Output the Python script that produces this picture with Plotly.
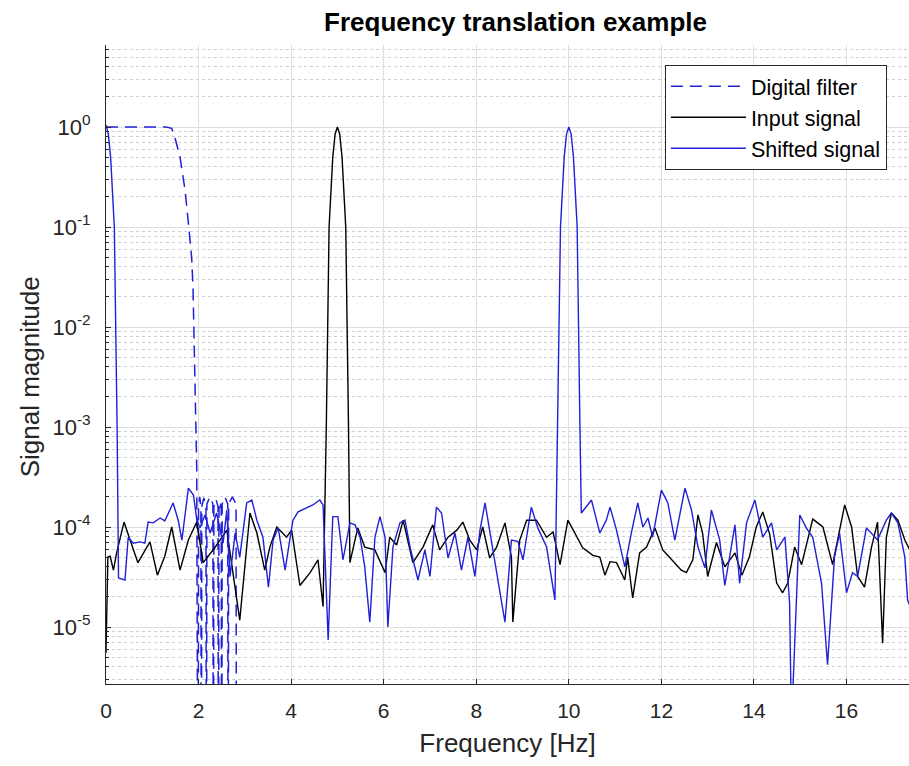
import plotly.graph_objects as go

# ---------------- data ----------------
filter_freq = [0.0, 1.30, 1.42, 1.50, 1.60, 1.71, 1.78, 1.85, 1.88, 1.92, 1.96, 1.99,
               2.00, 2.025, 2.05, 2.06,
               2.07, 2.115, 2.16, 2.17,
               2.18, 2.245, 2.31, 2.32,
               2.33, 2.375, 2.42, 2.43,
               2.44, 2.465, 2.49, 2.50,
               2.51, 2.57, 2.63, 2.64,
               2.65, 2.73, 2.81, 2.82]
filter_mag = [1.0, 1.0, 0.97, 0.75, 0.5, 0.23, 0.11, 0.05, 0.025, 4e-3, 4e-4, 1e-8,
              1.6e-4, 2.0e-4, 1.6e-4, 1e-8,
              1.6e-4, 1.95e-4, 1.6e-4, 1e-8,
              1.7e-4, 2.0e-4, 1.7e-4, 1e-8,
              1.6e-4, 1.9e-4, 1.6e-4, 1e-8,
              1.5e-4, 1.8e-4, 1.5e-4, 1e-8,
              1.7e-4, 2.0e-4, 1.7e-4, 1e-8,
              1.7e-4, 2.0e-4, 1.7e-4, 1e-8]

input_freq = [0.0, 0.04, 0.09, 0.16, 0.23, 0.39, 0.52, 0.69, 0.95, 1.11, 1.27, 1.42,
              1.60, 1.78, 1.96, 2.10, 2.35, 2.61, 2.89, 3.11, 3.26, 3.43, 3.54, 3.69,
              3.90, 4.01, 4.19, 4.41, 4.58, 4.69, 4.76, 4.82, 4.90, 4.95, 5.00, 5.05,
              5.10, 5.18, 5.24, 5.27, 5.44, 5.59, 5.81, 6.03, 6.13, 6.28, 6.42, 6.63,
              6.85, 7.06, 7.21, 7.39, 7.58, 7.71, 7.86, 8.01, 8.14, 8.29, 8.44, 8.62,
              8.76, 8.79, 8.94, 9.09, 9.30, 9.52, 9.66, 9.81, 9.98, 10.17, 10.30, 10.52,
              10.67, 10.78, 10.89, 11.03, 11.21, 11.27, 11.38, 11.53, 11.68, 11.86,
              12.03, 12.14, 12.43, 12.54, 12.68, 12.79, 12.89, 13.00, 13.19, 13.37,
              13.59, 13.74, 13.90, 14.05, 14.19, 14.34, 14.49, 14.62, 14.73, 14.88,
              15.03, 15.27, 15.49, 15.70, 15.96, 16.11, 16.24, 16.39, 16.54, 16.67,
              16.78, 16.86, 16.97, 17.11, 17.26, 17.40]
input_mag = [5.5e-6, 5.0e-5, 5.1e-5, 3.7e-5, 5.5e-5, 1.12e-4, 7.4e-5, 4.4e-5, 7.1e-5,
             3.3e-5, 5.1e-5, 1.0e-4, 3.7e-5, 7.4e-5, 1.12e-4, 4.4e-5, 6.2e-5, 9.3e-5,
             1.17e-5, 1.38e-4, 8.7e-5, 3.7e-5, 6.3e-5, 1.0e-4, 7.9e-5, 9.3e-5, 2.6e-5,
             3.5e-5, 4.7e-5, 1.6e-5, 1.0e-3, 0.1, 0.5, 0.85, 1.0, 0.85, 0.5, 0.1, 1.0e-3,
             4.4e-5, 9.8e-5, 6.3e-5, 5.9e-5, 3.5e-5, 7.9e-5, 6.6e-5, 1.17e-4, 4.4e-5,
             6.3e-5, 1.05e-4, 5.9e-5, 7.9e-5, 9.3e-5, 1.12e-4, 7.4e-5, 5.9e-5, 1.0e-4,
             4.9e-5, 6.3e-5, 1.1e-4, 5.0e-5, 1.12e-5, 7.4e-5, 1.17e-4, 1.17e-4, 7.9e-5,
             8.9e-5, 4.2e-5, 1.17e-4, 7.9e-5, 6.2e-5, 5.2e-5, 5.0e-5, 3.3e-5, 4.5e-5,
             4.4e-5, 2.95e-5, 5.0e-5, 1.95e-5, 5.5e-5, 6.3e-5, 9.8e-5, 5.9e-5, 5.2e-5,
             3.7e-5, 3.5e-5, 4.7e-5, 1.32e-4, 8.7e-5, 3.2e-5, 7.0e-5, 4.0e-5, 5.5e-5,
             3.3e-5, 5.0e-5, 1.0e-4, 1.41e-4, 8.5e-5, 2.75e-5, 2.2e-5, 2.75e-5, 6.3e-5,
             4.2e-5, 1.2e-4, 1.0e-4, 4.2e-5, 1.66e-4, 1.0e-4, 3.2e-5, 2.5e-5, 6.3e-5,
             1.12e-4, 6.9e-6, 7.9e-5, 1.38e-4, 1.17e-4, 7.4e-5, 5.5e-5]

shifted_freq = [0.0, 0.05, 0.10, 0.18, 0.24, 0.27, 0.41, 0.48, 0.59, 0.73, 0.84, 0.91,
                1.02, 1.17, 1.27, 1.45, 1.56, 1.64, 1.78, 1.89, 1.96, 2.03, 2.14, 2.25,
                2.39, 2.53, 2.61, 2.68, 2.79, 2.89, 3.04, 3.15, 3.26, 3.39, 3.51, 3.61,
                3.72, 3.87, 3.97, 4.04, 4.15, 4.34, 4.47, 4.62, 4.69, 4.80, 4.90, 5.01,
                5.12, 5.27, 5.38, 5.49, 5.59, 5.70, 5.81, 5.92, 6.03, 6.09, 6.20, 6.35,
                6.46, 6.57, 6.74, 6.89, 7.00, 7.14, 7.25, 7.39, 7.54, 7.68, 7.82, 7.97,
                8.08, 8.19, 8.33, 8.47, 8.62, 8.76, 8.90, 9.01, 9.19, 9.33, 9.52, 9.70,
                9.76, 9.82, 9.90, 9.95, 10.00, 10.05, 10.10, 10.18, 10.24, 10.27, 10.49,
                10.67, 10.81, 10.89, 11.03, 11.21, 11.35, 11.49, 11.60, 11.71, 11.81,
                12.00, 12.14, 12.29, 12.51, 12.65, 12.79, 12.94, 13.08, 13.26, 13.37,
                13.59, 13.69, 13.84, 14.02, 14.19, 14.38, 14.49, 14.67, 14.77, 14.81,
                14.99, 15.13, 15.27, 15.46, 15.59, 15.74, 15.85, 16.00, 16.13, 16.24,
                16.43, 16.67, 16.86, 16.97, 17.11, 17.26, 17.32, 17.40]
shifted_mag = [1.05, 0.85, 0.5, 0.1, 1.0e-3, 3.1e-5, 2.95e-5, 7.9e-5, 6.9e-5, 7.1e-5,
               6.9e-5, 1.12e-4, 1.1e-4, 1.23e-4, 1.15e-4, 1.74e-4, 1.17e-4, 7.4e-5,
               2.45e-4, 2.09e-4, 1.2e-4, 9.8e-5, 1.32e-4, 8.7e-5, 1.38e-4, 6.9e-5, 1.48e-4,
               3.2e-5, 8.7e-5, 5.0e-5, 1.74e-4, 1.86e-4, 1.17e-4, 7.9e-5, 2.5e-5, 7.4e-5,
               9.8e-5, 3.7e-5, 7.4e-5, 1.17e-4, 1.42e-4, 1.55e-4, 1.66e-4, 1.86e-4,
               1.66e-4, 7.4e-6, 1.27e-4, 1.27e-4, 4.7e-5, 1.1e-4, 1.05e-4, 7.9e-5, 4.0e-5,
               1.12e-5, 7.9e-5, 1.27e-4, 7.9e-5, 1.0e-5, 6.3e-5, 1.1e-4, 1.17e-4, 6.3e-5,
               2.95e-5, 5.9e-5, 3.2e-5, 1.58e-4, 1.38e-4, 4.9e-5, 8.7e-5, 3.7e-5, 7.9e-5,
               3.2e-5, 9.3e-5, 1.74e-4, 6.9e-5, 2.95e-5, 1.12e-5, 7.4e-5, 7.2e-5, 4.7e-5,
               1.58e-4, 9.8e-5, 6.3e-5, 1.86e-5, 1.0e-3, 0.1, 0.5, 0.85, 1.0, 0.85, 0.5,
               0.1, 1.0e-3, 1.38e-4, 1.86e-4, 8.7e-5, 1.17e-4, 1.58e-4, 9.3e-5, 4.0e-5,
               8.7e-5, 1.74e-4, 1.0e-4, 1.23e-4, 7.9e-5, 2.34e-4, 1.74e-4, 7.4e-5, 2.45e-4,
               1.48e-4, 6.3e-5, 3.9e-5, 1.48e-4, 7.4e-5, 2.6e-5, 1.05e-4, 2.75e-5, 1.1e-4,
               1.86e-4, 7.9e-5, 1.1e-4, 5.9e-5, 7.9e-5, 1.74e-5, 1.0e-6, 1.32e-4, 9.8e-5,
               7.9e-5, 2.75e-5, 4.2e-6, 5.0e-5, 8.7e-5, 2.2e-5, 3.5e-5, 3.2e-5, 9.8e-5,
               7.4e-5, 1.17e-4, 1.38e-4, 1.1e-4, 5.0e-5, 1.86e-5, 1.5e-5]

x_ticks = [0, 2, 4, 6, 8, 10, 12, 14, 16]
y_ticks = [1e-5, 1e-4, 1e-3, 1e-2, 1e-1, 1e0]
y_tick_labels = ["10<sup>-5</sup>", "10<sup>-4</sup>", "10<sup>-3</sup>",
                 "10<sup>-2</sup>", "10<sup>-1</sup>", "10<sup>0</sup>"]

# ---------------- figure ----------------
FONT = "Liberation Sans, Arial, Helvetica, sans-serif"
AX = "#262626"
BLUE = "#2020d8"

fig = go.Figure()
fig.add_trace(go.Scatter(x=filter_freq, y=filter_mag, mode="lines", name="Digital filter",
                         line=dict(color=BLUE, width=1.5, dash="12px,7px")))
fig.add_trace(go.Scatter(x=input_freq, y=input_mag, mode="lines", name="Input signal",
                         line=dict(color="#000000", width=1.4)))
fig.add_trace(go.Scatter(x=shifted_freq, y=shifted_mag, mode="lines", name="Shifted signal",
                         line=dict(color=BLUE, width=1.4)))

minor_vals = [m * 10.0 ** e for e in range(-6, 1) for m in range(2, 10)]

fig.update_layout(
    width=909, height=766,
    margin=dict(l=106, r=0, t=45, b=82, pad=0),
    paper_bgcolor="white", plot_bgcolor="white",
    font=dict(family=FONT, color=AX, size=21),
    title=dict(text="<b>Frequency translation example</b>", x=0.51, xref="paper",
               y=1 - 22 / 766, yref="container", yanchor="middle", xanchor="center",
               font=dict(size=26, color="#000000", family=FONT)),
    showlegend=True,
    legend=dict(x=0.696, y=0.969, xanchor="left", yanchor="top",
                bgcolor="white", bordercolor=AX, borderwidth=1,
                font=dict(size=21.5, color="#000000", family=FONT),
                itemwidth=75, tracegroupgap=0),
    xaxis=dict(range=[0, 17.35], tickvals=x_ticks, ticks="inside", ticklen=5,
               tickcolor=AX, showline=True, linecolor=AX, linewidth=1,
               showgrid=True, gridcolor="#dedede", gridwidth=1, zeroline=False,
               tickfont=dict(size=21, color=AX), ticklabelstandoff=8,
               title=dict(text="Frequency [Hz]", font=dict(size=26, color=AX), standoff=12)),
    yaxis=dict(type="log", range=[-5.57, 0.82], tickmode="array", tickvals=y_ticks,
               ticktext=y_tick_labels, ticks="inside", ticklen=5, tickcolor=AX,
               showline=True, linecolor=AX, linewidth=1,
               showgrid=True, gridcolor="#dedede", gridwidth=1, zeroline=False,
               tickfont=dict(size=22, color=AX), ticklabelstandoff=10,
               minor=dict(tickmode="array", tickvals=minor_vals, ticks="inside",
                          ticklen=3, tickcolor=AX, showgrid=True, griddash="dot",
                          gridcolor="#cfcfcf", gridwidth=1)),
    annotations=[dict(text="Signal magnitude", textangle=-90, showarrow=False,
                      xref="paper", yref="paper", x=-0.0946, y=0.48,
                      xanchor="center", yanchor="middle",
                      font=dict(size=26, color=AX, family=FONT))],
)

fig.write_html("out.html")
